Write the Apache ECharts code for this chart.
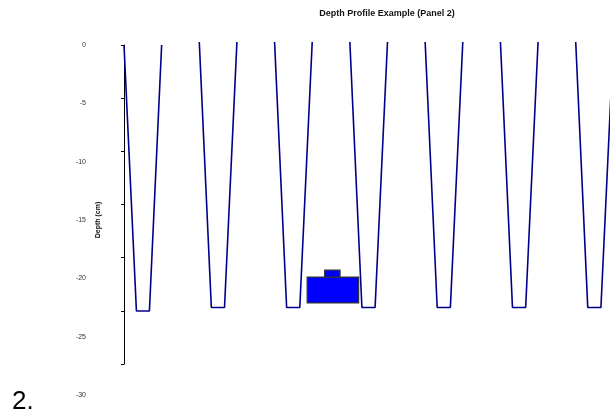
<!DOCTYPE html>
<html>
<head>
<meta charset="utf-8">
<script src="https://cdn.jsdelivr.net/npm/echarts@6/dist/echarts.min.js"></script>
<style>
  html, body { margin: 0; padding: 0; background: #fff; }
  #chart { width: 610px; height: 417px; }
</style>
</head>
<body>
<div id="chart"></div>
<script>
// Profile traces: each trace is a descent to the bottom and back up (distance, depth in cm)
const traceDistance = [
  [0, 0.33, 0.675, 1],
  [2, 2.32, 2.67, 3],
  [4, 4.32, 4.67, 5],
  [6, 6.32, 6.67, 7],
  [8, 8.32, 8.67, 9],
  [10, 10.32, 10.67, 11],
  [12, 12.32, 12.67, 13]
];
const traceDepth = [
  [0, -22.8, -22.8, 0],
  [0.25, -22.5, -22.5, 0.25],
  [0.25, -22.5, -22.5, 0.25],
  [0.25, -22.5, -22.5, 0.25],
  [0.25, -22.5, -22.5, 0.25],
  [0.25, -22.5, -22.5, 0.25],
  [0.25, -22.5, -22.5, 0.25]
];

// Block objects: [distance start, distance end, top depth, bottom depth]
const blocks = [
  [4.866, 6.234, -19.89, -22.11],
  [5.33, 5.74, -19.29, -19.89]
];

const depthTicks = { min: -30, max: 0, step: 5 };
const titleText = 'Depth Profile Example (Panel 2)';
const depthName = 'Depth (cm)';
const panelTag = '2.';

const FONT = 'Liberation Sans, Arial, sans-serif';
const lineColor = '#00008b';

const chart = echarts.init(document.getElementById('chart'), null, { renderer: 'canvas' });

const traceSeries = traceDistance.map((xs, i) => ({
  type: 'line',
  xAxisIndex: 0,
  yAxisIndex: 0,
  data: xs.map((x, j) => [x, traceDepth[i][j]]),
  symbol: 'none',
  lineStyle: { color: lineColor, width: 1.6 },
  animation: false,
  clip: false,
  z: 3
}));

const blockSeries = {
  type: 'custom',
  xAxisIndex: 0,
  yAxisIndex: 0,
  data: blocks,
  animation: false,
  z: 4,
  renderItem: function (params, api) {
    const p0 = api.coord([api.value(0), api.value(2)]);
    const p1 = api.coord([api.value(1), api.value(3)]);
    return {
      type: 'rect',
      shape: { x: p0[0], y: p0[1], width: p1[0] - p0[0], height: p1[1] - p0[1] },
      style: { fill: '#0000ff', stroke: '#333333', lineWidth: 1.2 }
    };
  }
};

chart.setOption({
  backgroundColor: '#ffffff',
  animation: false,
  title: {
    text: titleText,
    left: 382,
    top: 4,
    textAlign: 'center',
    textStyle: { fontFamily: FONT, fontSize: 9, fontWeight: 'bold', color: '#111' }
  },
  grid: [
    // data area, depth labels spread from 0 to -30
    { left: 124, top: 45, width: 527, height: 350, containLabel: false, outerBoundsMode: 'none' },
    // axis rule with tick marks
    { left: 124, top: 45, width: 10, height: 319, containLabel: false, outerBoundsMode: 'none' }
  ],
  xAxis: [
    { type: 'value', gridIndex: 0, min: 0, max: 14, show: false },
    { type: 'value', gridIndex: 1, min: 0, max: 1, show: false }
  ],
  yAxis: [
    {
      type: 'value', gridIndex: 0,
      min: depthTicks.min, max: depthTicks.max, interval: depthTicks.step,
      axisLine: { show: false },
      axisTick: { show: false },
      splitLine: { show: false },
      axisLabel: { margin: 38, fontFamily: FONT, fontSize: 7, color: '#333' },
      name: depthName,
      nameLocation: 'middle',
      nameRotate: 90,
      nameGap: 22,
      nameMoveOverlap: false,
      nameTextStyle: { fontFamily: FONT, fontSize: 7, fontWeight: 'bold', color: '#111' }
    },
    {
      type: 'value', gridIndex: 1,
      min: depthTicks.min, max: depthTicks.max, interval: depthTicks.step,
      axisLine: { show: true, onZero: false, lineStyle: { color: '#000', width: 1 } },
      axisTick: { show: true, inside: false, length: 3, lineStyle: { color: '#000' } },
      axisLabel: { show: false },
      splitLine: { show: false }
    }
  ],
  graphic: [
    {
      type: 'text',
      left: 12,
      top: 389,
      style: { text: panelTag, font: '26px ' + FONT, fill: '#000' }
    }
  ],
  series: traceSeries.concat([blockSeries])
});
</script>
</body>
</html>
